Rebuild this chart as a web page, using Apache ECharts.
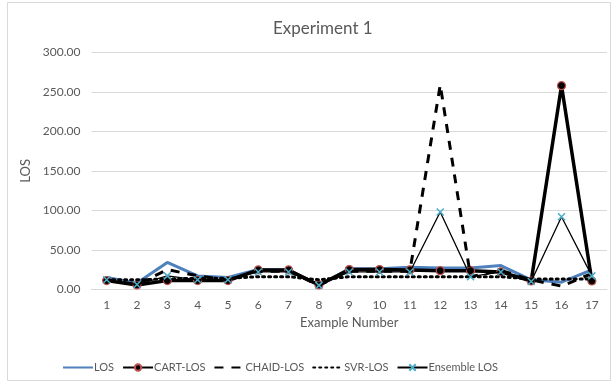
<!DOCTYPE html>
<html>
<head>
<meta charset="utf-8">
<script src="https://cdn.jsdelivr.net/npm/echarts@6/dist/echarts.min.js"></script>
<style>html,body{margin:0;padding:0;background:#fff}#c{width:614px;height:382px}</style>
</head>
<body>
<div id="c"></div>
<script>
var categories = ['1','2','3','4','5','6','7','8','9','10','11','12','13','14','15','16','17'];
var los      = [15, 8, 34, 17, 15, 25, 24.5, 5, 26, 26, 28, 27, 27, 30, 12, 9, 24.5];
var cartLos  = [11, 5.5, 11, 11, 11, 24.5, 24.5, 5.5, 25, 25, 24.5, 23.6, 23.6, 22, 10.5, 258, 10.5];
var chaidLos = [12, 6, 25, 17, 12, 23, 23, 5, 23, 23, 23, 259, 16, 24, 12, 4, 20];
var svrLos   = [12, 12, 13, 14, 14, 16, 16, 12, 16, 16, 16, 16, 16, 16, 13, 13, 13];
var ensLos   = [12, 6, 17, 12, 12, 22, 22, 5, 22, 22, 22, 98, 16, 22, 10, 92, 17];
var yTicks   = [0, 50, 100, 150, 200, 250, 300];

var FONT = 'Lato';
var hideSym = {opacity: 0};
var chart = echarts.init(document.getElementById('c'), null, {renderer:'canvas'});
chart.setOption({
  backgroundColor: '#fff',
  animation: false,
  title: {
    text: 'Experiment 1', left: 268, top: 15,
    textStyle: {fontFamily: FONT, fontSize: 17, fontWeight: 'normal', color: '#595959'}
  },
  graphic: [{
    type: 'rect', shape: {x: 7.5, y: 2.5, width: 603, height: 378},
    style: {fill: 'none', stroke: '#D9D9D9', lineWidth: 1}, silent: true
  }],
  grid: {left: 91.5, right: 7, top: 52.5, bottom: 92.7},
  legend: {
    top: 357, left: 57, itemWidth: 30, itemHeight: 8, itemGap: 8,
    textStyle: {fontFamily: FONT, fontSize: 11, color: '#595959', padding: [0, 0, 0, -4]},
    data: [
      {name: 'LOS', itemStyle: hideSym},
      {name: 'CART-LOS'},
      {name: 'CHAID-LOS', itemStyle: hideSym},
      {name: 'SVR-LOS', itemStyle: hideSym},
      {name: 'Ensemble LOS'}
    ]
  },
  xAxis: {
    type: 'category', data: categories, boundaryGap: true,
    name: 'Example Number', nameLocation: 'middle', nameGap: 27,
    nameTextStyle: {fontFamily: FONT, fontSize: 13, color: '#595959'},
    axisLine: {lineStyle: {color: '#D9D9D9', width: 1}},
    axisTick: {show: false},
    axisLabel: {fontFamily: FONT, fontSize: 12, color: '#595959', margin: 10}
  },
  yAxis: {
    type: 'value', min: 0, max: 300, interval: 50,
    name: 'LOS', nameLocation: 'middle', nameGap: 45,
    nameTextStyle: {fontFamily: FONT, fontSize: 13, color: '#595959'},
    axisLine: {show: false}, axisTick: {show: false},
    splitLine: {lineStyle: {color: '#D9D9D9', width: 1}},
    axisLabel: {fontFamily: FONT, fontSize: 12, color: '#595959', margin: 11,
      formatter: function (v) { return v.toFixed(2); }}
  },
  series: [
    {name: 'LOS', type: 'line', data: los, showSymbol: false, symbol: 'none',
      itemStyle: {color: '#4F81BD'}, lineStyle: {color: '#4F81BD', width: 3}, z: 2},
    {name: 'CART-LOS', type: 'line', data: cartLos, symbol: 'circle', symbolSize: 8,
      itemStyle: {color: '#000', borderColor: '#C0504D', borderWidth: 1.2},
      lineStyle: {color: '#000', width: 3.5}, z: 3},
    {name: 'CHAID-LOS', type: 'line', data: chaidLos, symbol: 'none',
      itemStyle: {color: '#000'},
      lineStyle: {color: '#000', width: 3, type: [9, 8]}, z: 4},
    {name: 'SVR-LOS', type: 'line', data: svrLos, symbol: 'none',
      itemStyle: {color: '#000'},
      lineStyle: {color: '#000', width: 3, type: [2, 4], cap: 'round'}, z: 4},
    {name: 'Ensemble LOS', type: 'line', data: ensLos,
      symbol: 'path://M0,0L10,10M10,0L0,10', symbolSize: 7,
      itemStyle: {color: '#4BACC6', borderColor: '#4BACC6', borderWidth: 1.5},
      lineStyle: {color: '#000', width: 1.3}, z: 5}
  ]
});
</script>
</body>
</html>
